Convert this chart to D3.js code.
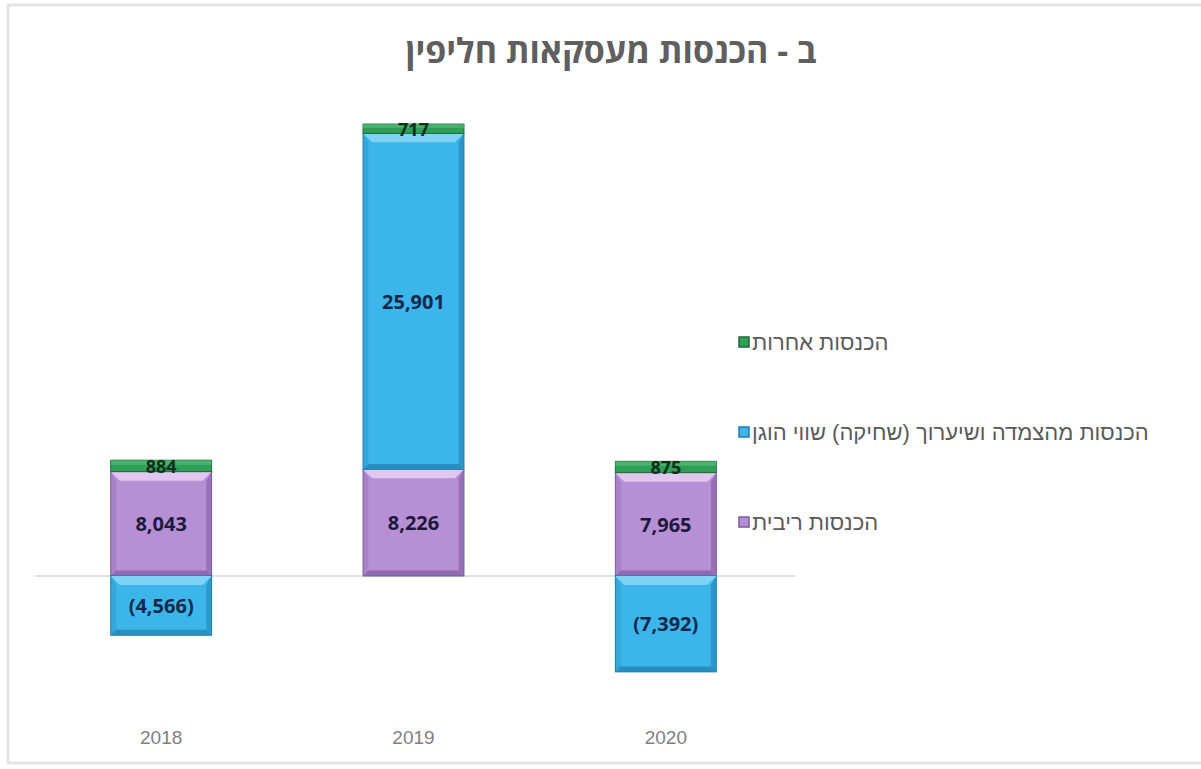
<!DOCTYPE html>
<html><head><meta charset="utf-8">
<script src="https://cdn.jsdelivr.net/npm/d3@7"></script>
<style>
html,body{margin:0;padding:0;background:#fff;}
svg{display:block;}
</style></head>
<body>
<svg id="chart" width="1201" height="769"></svg>
<script>
const years = ["2018", "2019", "2020"];
const interest = [8043, 8226, 7965];
const fairValue = [-4566, 25901, -7392];
const other = [884, 717, 875];
const seriesNames = ["הכנסות ריבית", "הכנסות מהצמדה ושיערוך (שחיקה) שווי הוגן", "הכנסות אחרות"];
const title = "ב - הכנסות מעסקאות חליפין";

const keys = ["interest", "fairValue", "other"];
const colors = {
  interest: {base: "#b78fd5", light: "#e6cdf3", dark: "#7d5aa0", text: "#1c1a3a"},
  fairValue: {base: "#3cb5ea", light: "#86d6f6", dark: "#1f7fae", text: "#13294a"},
  other: {base: "#2f9e56", light: "#5cc27c", dark: "#1a6b37", text: "#0f2f1a"}
};

const rows = years.map((y, i) => ({year: y, interest: interest[i], fairValue: fairValue[i], other: other[i]}));
const stacked = d3.stack().keys(keys).offset(d3.stackOffsetDiverging)(rows);

const svg = d3.select("#chart");

// chart frame
svg.append("rect").attr("x", 8).attr("y", 5).attr("width", 1230).attr("height", 758)
  .attr("fill", "#fff").attr("stroke", "#e4e4e4").attr("stroke-width", 3);

const x = d3.scaleBand().domain(years).range([35, 792]).paddingInner(0.6).paddingOuter(0.3);
const y = d3.scaleLinear().domain([-10000, 35000]).range([705.7, 122.05]);

// zero line
svg.append("line").attr("x1", 35).attr("x2", 795).attr("y1", y(0)).attr("y2", y(0))
  .attr("stroke", "#d9d9d9").attr("stroke-width", 1.5);

const fmt = v => v < 0 ? "(" + d3.format(",")(-v) + ")" : d3.format(",")(v);

const g = svg.append("g");
stacked.forEach(layer => {
  const key = layer.key;
  const c = colors[key];
  layer.forEach((d, i) => {
    const x0 = x(years[i]), w = x.bandwidth();
    const yTop = y(Math.max(d[0], d[1])), yBot = y(Math.min(d[0], d[1]));
    const h = yBot - yTop;
    const seg = g.append("g");
    seg.append("rect").attr("x", x0).attr("y", yTop).attr("width", w).attr("height", h)
      .attr("fill", c.base).attr("stroke", c.dark).attr("stroke-width", 1);
    const b = Math.min(9, h / 3);
    if (key !== "other") {
      seg.append("path").attr("d", `M${x0},${yTop}L${x0 + w},${yTop}L${x0 + w - b},${yTop + b}L${x0 + b},${yTop + b}Z`)
        .attr("fill", c.light).attr("opacity", 0.9);
      seg.append("path").attr("d", `M${x0 + w},${yTop}L${x0 + w},${yBot}L${x0 + w - b * 0.6},${yBot - b * 0.6}L${x0 + w - b * 0.6},${yTop + b}Z`)
        .attr("fill", c.dark).attr("opacity", 0.55);
      seg.append("path").attr("d", `M${x0},${yBot}L${x0 + w},${yBot}L${x0 + w - b * 0.6},${yBot - b * 0.6}L${x0 + b * 0.6},${yBot - b * 0.6}Z`)
        .attr("fill", c.dark).attr("opacity", 0.7);
      seg.append("path").attr("d", `M${x0},${yTop}L${x0 + b * 0.6},${yTop + b}L${x0 + b * 0.6},${yBot - b * 0.6}L${x0},${yBot}Z`)
        .attr("fill", c.dark).attr("opacity", 0.25);
    } else {
      seg.append("rect").attr("x", x0).attr("y", yTop).attr("width", w).attr("height", h * 0.4)
        .attr("fill", c.light).attr("opacity", 0.6);
    }
    const v = d.data[key];
    g.append("text").attr("x", x0 + w / 2).attr("y", (yTop + yBot) / 2)
      .attr("text-anchor", "middle").attr("dominant-baseline", "central")
      .attr("font-family", "'Open Sans','Liberation Sans',sans-serif").attr("font-weight", "bold")
      .attr("font-size", key === "other" ? 18 : 20).attr("fill", c.text)
      .text(fmt(v));
  });
});

// x axis labels
const xAxis = d3.axisBottom(x).tickSize(0).tickPadding(0);
const ax = svg.append("g").attr("transform", `translate(0,737)`).call(xAxis);
ax.select(".domain").remove();
ax.selectAll("text").attr("font-family", "'Liberation Sans',Arial,sans-serif").attr("font-size", 19)
  .attr("fill", "#808080").attr("dy", "0.35em").attr("y", 0);

// title
svg.append("text").attr("x", 611).attr("y", 50).attr("text-anchor", "middle").attr("dominant-baseline", "central")
  .attr("font-family", "'Open Sans','Liberation Sans',sans-serif").attr("font-weight", "bold")
  .attr("font-size", 34).attr("fill", "#5f5f5f").attr("direction", "rtl").text(title);

// legend
const legendY = {other: 342, fairValue: 432, interest: 522};
keys.forEach((k, i) => {
  const ly = legendY[k];
  const c = colors[k];
  svg.append("rect").attr("x", 739).attr("y", ly - 5).attr("width", 10).attr("height", 10)
    .attr("fill", c.base).attr("stroke", c.dark).attr("stroke-width", 1.5);
  svg.append("text").attr("x", 752).attr("y", ly).attr("dominant-baseline", "central")
    .attr("direction", "rtl").attr("text-anchor", "end")
    .attr("font-family", "'Liberation Sans',Arial,sans-serif").attr("font-size", 22).attr("fill", "#5a5a5a")
    .text(seriesNames[i]);
});
</script>
</body></html>
